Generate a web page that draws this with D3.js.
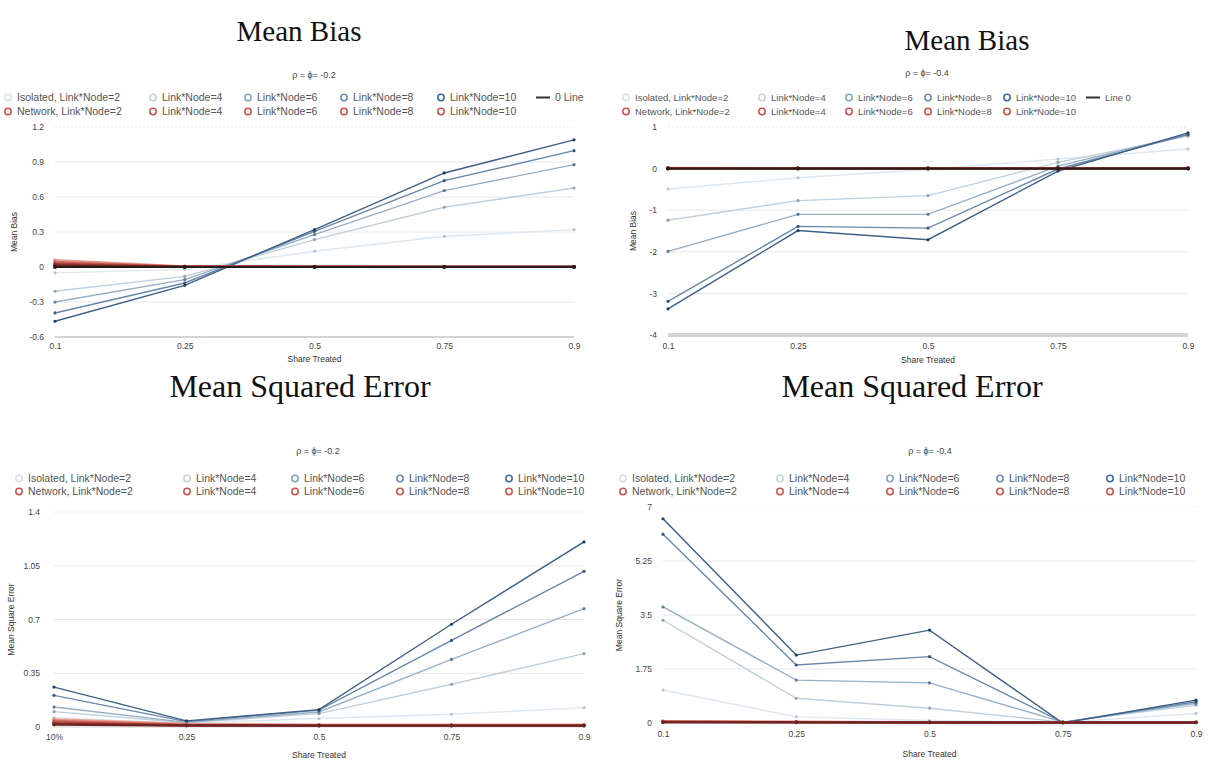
<!DOCTYPE html>
<html><head><meta charset="utf-8">
<script src="https://cdn.jsdelivr.net/npm/d3@7"></script>
<style>body{margin:0;background:#fff}svg{display:block}</style>
</head><body><svg id="c" width="1215" height="769"></svg>
<script>
// ---------- data ----------
const shareLabels = ["0.1","0.25","0.5","0.75","0.9"];
const shareLabelsPct = ["10%","0.25","0.5","0.75","0.9"];
const linkNode = [2,4,6,8,10];
const isoNames = ["Isolated, Link*Node=2","Link*Node=4","Link*Node=6","Link*Node=8","Link*Node=10"];
const netNames = ["Network, Link*Node=2","Link*Node=4","Link*Node=6","Link*Node=8","Link*Node=10"];

const bias02Iso = [
  [-0.05,-0.02,0.135,0.263,0.32],
  [-0.208,-0.08,0.235,0.512,0.677],
  [-0.30,-0.108,0.278,0.655,0.877],
  [-0.394,-0.137,0.306,0.74,0.997],
  [-0.465,-0.157,0.32,0.806,1.09]
];
const bias02Net = [
  [0.06,0.005,0.003,0.002,0.002],
  [0.045,0.004,0.003,0.002,0.002],
  [0.03,0.003,0.002,0.002,0.002],
  [0.02,0.002,0.002,0.001,0.001],
  [0.01,0.001,0.001,0.001,0.001]
];
const bias04Iso = [
  [-0.49,-0.22,-0.02,0.23,0.47],
  [-1.24,-0.77,-0.65,0.15,0.78],
  [-1.99,-1.10,-1.10,0.06,0.82],
  [-3.19,-1.39,-1.43,-0.01,0.82],
  [-3.37,-1.49,-1.71,-0.06,0.86]
];
const bias04Net = [
  [0.02,0.01,0.01,0.01,0.01],
  [0.015,0.01,0.005,0.005,0.005],
  [0.01,0.005,0.005,0.005,0.005],
  [0.005,0.003,0.003,0.003,0.003],
  [0.003,0.002,0.002,0.002,0.002]
];
const mse02Iso = [
  [0.06,0.025,0.055,0.083,0.126],
  [0.10,0.028,0.087,0.278,0.478],
  [0.13,0.03,0.098,0.44,0.771],
  [0.206,0.035,0.11,0.564,1.014],
  [0.26,0.04,0.113,0.669,1.205]
];
const mse02Net = [
  [0.05,0.02,0.015,0.015,0.015],
  [0.04,0.016,0.013,0.013,0.013],
  [0.03,0.013,0.011,0.011,0.011],
  [0.022,0.011,0.009,0.009,0.009],
  [0.015,0.009,0.008,0.008,0.008]
];
const mse04Iso = [
  [1.07,0.20,0.08,0.02,0.31],
  [3.33,0.80,0.48,0.03,0.58],
  [3.76,1.39,1.30,0.03,0.64],
  [6.12,1.88,2.15,0.02,0.69],
  [6.62,2.20,3.01,0.00,0.74]
];
const mse04Net = [
  [0.06,0.04,0.03,0.03,0.03],
  [0.05,0.035,0.025,0.025,0.025],
  [0.04,0.03,0.02,0.02,0.02],
  [0.03,0.025,0.018,0.018,0.018],
  [0.025,0.02,0.015,0.015,0.015]
];
const zeroLine = [0,0,0,0,0];

const ticksBias02 = [-0.6,-0.3,0,0.3,0.6,0.9,1.2];
const ticksBias04 = [-4,-3,-2,-1,0,1];
const ticksMse02 = [0,0.35,0.7,1.05,1.4];
const ticksMse04 = [0,1.75,3.5,5.25,7];

// ---------- styles ----------
const isoLine = ["#dfe7ee","#bfcfdc","#96afc5","#6888aa","#3d5f84"];
const isoDot  = ["#b9c6d1","#8fa3b5","#5f7a94","#3d5876","#24405f"];
const isoLegend = ["#d6dfe6","#c4d2dc","#7fa7bf","#6b8cb4","#3d6aa0"];
const netLine = ["#e89a90","#d26a60","#b04a42","#8e3430","#6e2222"];
const netLegend = ["#c9504a","#c9504a","#c9504a","#c9504a","#c9504a"];

const svg = d3.select("#c");

const panels = [
  {title:"Mean Bias", tfs:29, tx:299, ty:41, sub:"ρ = ϕ= -0.2", sx:314, sy:78,
   legY:[101,115], legX:[8,153,248,344,441], legLine:536, legLineLabel:"0 Line", legFont:10.5,
   x0:55, x1:574, yTop:127, yBot:337, domain:[-0.6,1.2], ticks:ticksBias02,
   tickFmt:d=>d===0?"0":d.toString(), yTitle:"Mean Bias", ytx:17, tickEnd:44, xTickY:350, xTitleY:362,
   xLabels:shareLabels, iso:bias02Iso, net:bias02Net, zero:true, bottomThick:2},
  {title:"Mean Bias", tfs:29, tx:967, ty:50, sub:"ρ = ϕ= -0.4", sx:927, sy:76,
   legY:[101,115], legX:[626,762,849,928,1007], legLine:1086, legLineLabel:"Line 0", legFont:9.5,
   x0:668, x1:1188, yTop:127, yBot:335, domain:[-4,1], ticks:ticksBias04,
   tickFmt:d=>d.toString(), yTitle:"Mean Bias", ytx:636, tickEnd:657, xTickY:350, xTitleY:363,
   xLabels:shareLabels, iso:bias04Iso, net:bias04Net, zero:true, bottomThick:4},
  {title:"Mean Squared Error", tfs:32, tx:300, ty:397, sub:"ρ = ϕ= -0.2", sx:318, sy:454,
   legY:[482,495], legX:[19,187,295,400,509], legLine:null, legFont:10.5,
   x0:54, x1:584, yTop:512, yBot:727, domain:[0,1.4], ticks:ticksMse02,
   tickFmt:d=>d.toString(), yTitle:"Mean Square Error", ytx:14, tickEnd:40, xTickY:741, xTitleY:758,
   xLabels:shareLabelsPct, iso:mse02Iso, net:mse02Net, zero:false, bottomThick:1},
  {title:"Mean Squared Error", tfs:32, tx:912, ty:397, sub:"ρ = ϕ= -0.4", sx:930, sy:454,
   legY:[482,495], legX:[623,780,890,1000,1110], legLine:null, legFont:10.5,
   x0:663, x1:1196, yTop:507, yBot:723, domain:[0,7], ticks:ticksMse04,
   tickFmt:d=>d.toString(), yTitle:"Mean Square Error", ytx:622, tickEnd:652, xTickY:738, xTitleY:757,
   xLabels:shareLabels, iso:mse04Iso, net:mse04Net, zero:false, bottomThick:1}
];

panels.forEach(p => {
  const g = svg.append("g");
  const x = d3.scalePoint().domain(d3.range(5)).range([p.x0, p.x1]);
  const y = d3.scaleLinear().domain(p.domain).range([p.yBot, p.yTop]);

  g.append("text").attr("x",p.tx).attr("y",p.ty).attr("text-anchor","middle")
    .attr("font-family","'Liberation Serif', 'DejaVu Serif', serif").attr("font-size",p.tfs).attr("fill","#111")
    .text(p.title);
  g.append("text").attr("x",p.sx).attr("y",p.sy).attr("text-anchor","middle")
    .attr("font-family","Arial, 'Liberation Sans', sans-serif").attr("font-size",9).attr("fill","#444")
    .text(p.sub);

  // legend
  const lf = "Arial, 'Liberation Sans', sans-serif";
  [p.iso, p.net].forEach((_, r) => {
    const names = r===0 ? isoNames : netNames;
    const cols = r===0 ? isoLegend : netLegend;
    names.forEach((nm,i) => {
      const cx = p.legX[i];
      g.append("circle").attr("cx",cx).attr("cy",p.legY[r]-3.5).attr("r",3.2)
        .attr("fill","none").attr("stroke",cols[i]).attr("stroke-width",1.5);
      g.append("text").attr("x",cx+9).attr("y",p.legY[r]).attr("font-family",lf)
        .attr("font-size",p.legFont).attr("fill","#555").text(nm);
    });
  });
  if (p.legLine !== null) {
    g.append("line").attr("x1",p.legLine).attr("x2",p.legLine+14)
      .attr("y1",p.legY[0]-3.5).attr("y2",p.legY[0]-3.5).attr("stroke","#333").attr("stroke-width",2);
    g.append("text").attr("x",p.legLine+19).attr("y",p.legY[0]).attr("font-family",lf)
      .attr("font-size",p.legFont).attr("fill","#555").text(p.legLineLabel);
  }

  // grid
  p.ticks.forEach((t,k) => {
    const isTop = k===p.ticks.length-1;
    const isBot = k===0;
    g.append("line").attr("x1",p.x0).attr("x2",p.x1).attr("y1",y(t)).attr("y2",y(t))
      .attr("stroke", isBot ? "#d4d4d4" : "#e8e8e8")
      .attr("stroke-width", isBot ? p.bottomThick : 1)
      .attr("stroke-dasharray", isTop ? "2,2" : null);
  });

  // y axis labels via d3 axis
  const ya = d3.axisLeft(y).tickValues(p.ticks).tickFormat(p.tickFmt).tickSize(0).tickPadding(0);
  const yg = g.append("g").attr("transform",`translate(${p.tickEnd},0)`).call(ya);
  yg.select(".domain").remove();
  yg.selectAll("text").attr("font-family",lf).attr("font-size",8.5).attr("fill","#444");

  const xa = d3.axisBottom(x).tickFormat(i=>p.xLabels[i]).tickSize(0).tickPadding(0);
  const xg = g.append("g").attr("transform",`translate(0,${p.xTickY-7})`).call(xa);
  xg.select(".domain").remove();
  xg.selectAll("text").attr("font-family",lf).attr("font-size",8.5).attr("fill","#444");

  g.append("text").attr("transform",`translate(${p.ytx},${(p.yTop+p.yBot)/2}) rotate(-90)`)
    .attr("text-anchor","middle").attr("font-family",lf).attr("font-size",8.5).attr("fill","#333")
    .text(p.yTitle);
  g.append("text").attr("x",(p.x0+p.x1)/2).attr("y",p.xTitleY).attr("text-anchor","middle")
    .attr("font-family",lf).attr("font-size",8.5).attr("fill","#333").text("Share Treated");

  const line = d3.line().x((d,i)=>x(i)).y(d=>y(d));

  // isolated lines
  p.iso.forEach((s,i) => {
    g.append("path").datum(s).attr("d",line).attr("fill","none")
      .attr("stroke",isoLine[i]).attr("stroke-width",1.4);
    g.selectAll(null).data(s).enter().append("circle")
      .attr("cx",(d,j)=>x(j)).attr("cy",d=>y(d)).attr("r",1.6).attr("fill",isoDot[i]);
  });
  // network lines
  p.net.forEach((s,i) => {
    g.append("path").datum(s).attr("d",line).attr("fill","none")
      .attr("stroke",netLine[i]).attr("stroke-width",2.2);
    g.selectAll(null).data(s).enter().append("circle")
      .attr("cx",(d,j)=>x(j)).attr("cy",d=>y(d)).attr("r",1.8).attr("fill",netLine[i]);
  });
  if (p.zero) {
    g.append("path").datum(zeroLine).attr("d",line).attr("fill","none")
      .attr("stroke","#2a1a1a").attr("stroke-width",1.8);
    g.selectAll(null).data(zeroLine).enter().append("circle")
      .attr("cx",(d,j)=>x(j)).attr("cy",d=>y(d)).attr("r",2).attr("fill","#2a1a1a");
  }
});
</script></body></html>
